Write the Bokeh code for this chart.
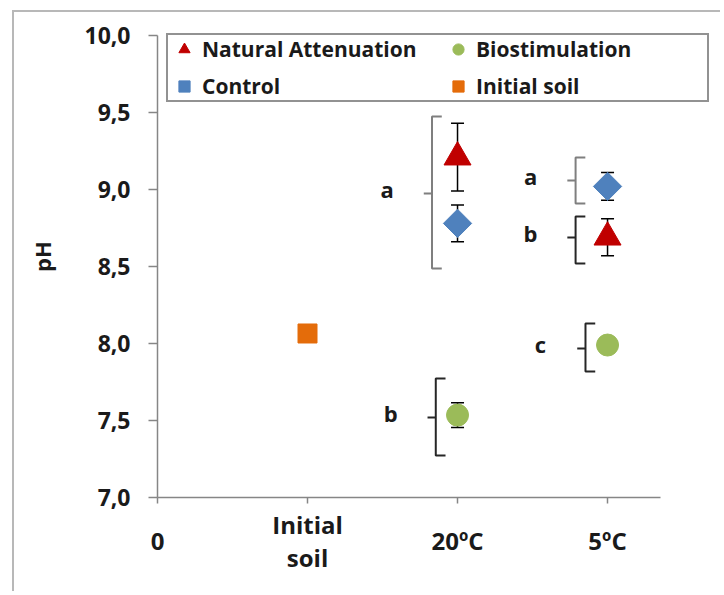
import math
from bokeh.plotting import figure
from bokeh.models import FixedTicker, Legend, LegendItem, Range1d
from bokeh.core.properties import value
from bokeh.embed import file_html
from bokeh.resources import INLINE

# ---------------- data ----------------
x_tick_values = [0, 1, 2, 3]
x_tick_labels = ["0", "Initial soil", "20ºC", "5ºC"]
y_tick_values = [7.0, 7.5, 8.0, 8.5, 9.0, 9.5, 10.0]
y_tick_labels = ["7,0", "7,5", "8,0", "8,5", "9,0", "9,5", "10,0"]

na_x = [2, 3]
na_y = [9.21, 8.69]
na_err = [0.22, 0.12]

ctrl_x = [2, 3]
ctrl_y = [8.78, 9.02]
ctrl_err = [0.12, 0.09]

bio_x = [2, 3]
bio_y = [7.535, 7.99]
bio_err = [0.08, 0.0]

init_x = [1]
init_y = [8.065]

# significance groups (letters with braces)
grp_letter = ["a", "b", "a", "b", "c"]
grp_x = [1.83, 1.855, 2.787, 2.787, 2.853]       # position of brace spine
grp_top = [9.474, 7.773, 9.208, 8.825, 8.13]
grp_bottom = [8.487, 7.273, 8.909, 8.519, 7.818]
grp_mid = [8.974, 7.519, 9.058, 8.688, 7.968]
grp_color = ["#7f7f7f", "#262626", "#7f7f7f", "#262626", "#262626"]

X_AXIS_END = 3.353
RED = "#C00000"
BLUE = "#4F81BD"
GREEN = "#9BBB59"
ORANGE = "#E46C0A"
FONT = "Open Sans"
TXT = "#1a1a1a"


def two_row(label):
    # single-line labels sit halfway between the two lines of a wrapped label
    parts = label.split(" ")
    if len(parts) == 1:
        return "\n" + label
    return parts[0] + "\n\n" + " ".join(parts[1:])


p = figure(width=708, height=581, output_backend="svg", toolbar_location=None,
           x_range=Range1d(0, 3.753), y_range=Range1d(7.0, 10.13),
           min_border_left=143, min_border_top=3, min_border_right=2, min_border_bottom=96)
p.styles = {"margin-left": "12px", "margin-top": "10px",
            "border-left": "2px solid #b8b8b8", "border-top": "2px solid #b8b8b8"}
p.outline_line_color = None
p.grid.visible = False

# axes
AX = "#868686"
for ax in (p.xaxis[0], p.yaxis[0]):
    ax.axis_line_color = AX
    ax.axis_line_width = 1.5
    ax.major_tick_line_color = AX
    ax.major_tick_line_width = 1.5
    ax.major_tick_in = 0
    ax.minor_tick_line_color = None
    ax.major_label_text_font = FONT
    ax.major_label_text_font_style = "bold"
    ax.major_label_text_color = TXT

p.xaxis.bounds = (0, X_AXIS_END)
p.xaxis.ticker = FixedTicker(ticks=x_tick_values)
p.xaxis.major_label_overrides = {v: two_row(t) for v, t in zip(x_tick_values, x_tick_labels)}
p.xaxis.major_tick_out = 6
p.xaxis.major_label_text_font_size = "24px"
p.xaxis.major_label_text_line_height = 0.5
p.xaxis.major_label_standoff = 4

p.yaxis.bounds = (7.0, 10.0)
p.yaxis.ticker = FixedTicker(ticks=y_tick_values)
p.yaxis.major_label_overrides = dict(zip(y_tick_values, y_tick_labels))
p.yaxis.major_tick_out = 9
p.yaxis.major_label_text_font_size = "23px"
p.yaxis.major_label_standoff = 18
p.yaxis.axis_label = "pH"
p.yaxis.axis_label_text_font = FONT
p.yaxis.axis_label_text_font_style = "bold"
p.yaxis.axis_label_text_font_size = "22px"
p.yaxis.axis_label_text_color = TXT
p.yaxis.axis_label_standoff = 24

# braces
xs, ys, cs = [], [], []
for gx, gt, gb, gm, gc in zip(grp_x, grp_top, grp_bottom, grp_mid, grp_color):
    xs.append([gx + 0.065, gx, gx, gx + 0.065]); ys.append([gt, gt, gb, gb]); cs.append(gc)
    xs.append([gx - 0.055, gx]); ys.append([gm, gm]); cs.append(gc)
p.multi_line(xs=xs, ys=ys, line_color=cs, line_width=2)
p.text(x=[gx - 0.3 for gx in grp_x], y=[m + 0.03 for m in grp_mid], text=grp_letter,
       text_font=value(FONT), text_font_style="bold", text_font_size="22px",
       text_color=TXT, text_align="center", text_baseline="middle")


# error bars (below markers)
def errbars(xv, yv, ev):
    lo = [y - e for y, e in zip(yv, ev)]
    hi = [y + e for y, e in zip(yv, ev)]
    p.segment(x0=xv, y0=lo, x1=xv, y1=hi, line_color="black", line_width=1.5)
    p.scatter(x=xv + xv, y=lo + hi, marker="dash", size=13, line_color="black", line_width=1.5)


errbars(na_x, na_y, na_err)
errbars(ctrl_x, ctrl_y, ctrl_err)
errbars(bio_x, bio_y, bio_err)

r_na = p.scatter(x=na_x, y=na_y, marker="triangle", size=27, fill_color=RED, line_color=RED)
r_ctrl = p.scatter(x=ctrl_x, y=ctrl_y, marker="square", angle=math.pi / 4, size=20,
                   fill_color=BLUE, line_color=BLUE)
r_bio = p.scatter(x=bio_x, y=bio_y, marker="circle", size=22, fill_color=GREEN, line_color=GREEN)
r_init = p.scatter(x=init_x, y=init_y, marker="square", size=19, fill_color=ORANGE, line_color=ORANGE)

legend = Legend(items=[
    LegendItem(label="Natural Attenuation", renderers=[r_na]),
    LegendItem(label="Control", renderers=[r_ctrl]),
    LegendItem(label="Biostimulation", renderers=[r_bio]),
    LegendItem(label="Initial soil", renderers=[r_init]),
], ncols=2, location=(9, 395))
legend.label_text_font = FONT
legend.label_text_font_style = "bold"
legend.label_text_font_size = "21px"
legend.label_text_color = TXT
legend.glyph_width = 32
legend.glyph_height = 28
legend.label_height = 28
legend.label_width = 231
legend.label_standoff = 2
legend.spacing = 9
legend.padding = 0
legend.margin = 0
legend.border_line_color = "#262626"
legend.border_line_width = 2
legend.background_fill_alpha = 1.0
p.add_layout(legend, "center")

open("out.html", "w").write(file_html(p, INLINE))
